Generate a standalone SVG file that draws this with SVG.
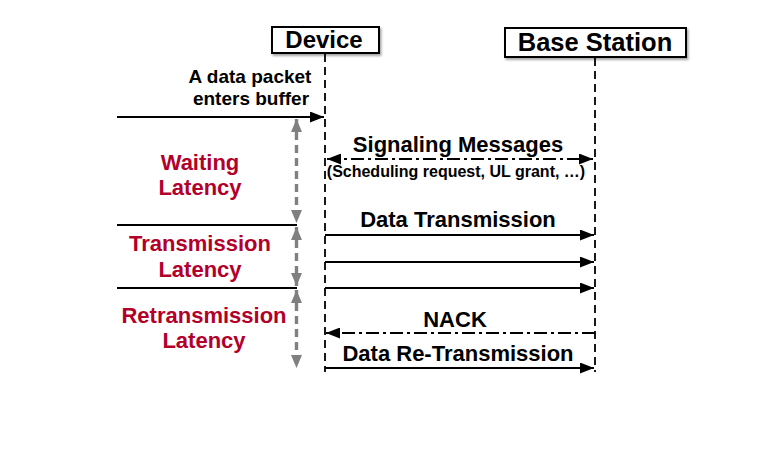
<svg xmlns="http://www.w3.org/2000/svg" width="761" height="452" viewBox="0 0 761 452">
<style>
text{font-family:"Liberation Sans",Arial,Helvetica,sans-serif;font-weight:bold;fill:#000}
.red{fill:#b3002a;font-size:22px}
.lbl{font-size:22px}
.box{fill:#fff;stroke:#000;stroke-width:2}
.life{stroke:#000;stroke-width:1.8;stroke-dasharray:8 5;fill:none}
.msg{stroke:#000;stroke-width:2;fill:none}
.dd{stroke-dasharray:13 4 3 4}
.span{stroke:#808080;stroke-width:3.4;stroke-dasharray:8 5;fill:none}
</style>
<defs>
<filter id="sh" x="-10%" y="-20%" width="130%" height="160%">
<feDropShadow dx="1.5" dy="2" stdDeviation="1.2" flood-color="#000" flood-opacity="0.35"/>
</filter>
<marker id="ah" viewBox="0 0 14 11" refX="14" refY="5.5" markerWidth="14" markerHeight="11" markerUnits="userSpaceOnUse" orient="auto-start-reverse">
<path d="M0,0 L14,5.5 L0,11 Z" fill="#000"/>
</marker>
<marker id="gh" viewBox="0 0 13 11" refX="13" refY="5.5" markerWidth="13" markerHeight="11" markerUnits="userSpaceOnUse" orient="auto-start-reverse">
<path d="M0,0 L13,5.5 L0,11 Z" fill="#808080"/>
</marker>
</defs>

<g id="device">
<rect class="box" x="272" y="27" width="107" height="26" filter="url(#sh)"/>
<text x="324" y="48" text-anchor="middle" style="font-size:24px">Device</text>
<line class="life" x1="325" y1="54" x2="325" y2="372"/>
</g>

<g id="base-station">
<rect class="box" x="505" y="28" width="181" height="29" filter="url(#sh)"/>
<text x="595" y="51" text-anchor="middle" style="font-size:25.5px">Base Station</text>
<line class="life" x1="595" y1="58" x2="595" y2="372"/>
</g>

<g id="packet-label">
<text x="250" y="83" text-anchor="middle" style="font-size:19px">A data packet</text>
<text x="251" y="105" text-anchor="middle" style="font-size:19px">enters buffer</text>
</g>

<g id="waiting-latency">
<text class="red" x="200" y="170" text-anchor="middle">Waiting</text>
<text class="red" x="200" y="195" text-anchor="middle">Latency</text>
</g>
<g id="transmission-latency">
<text class="red" x="200" y="251" text-anchor="middle">Transmission</text>
<text class="red" x="200" y="277" text-anchor="middle">Latency</text>
</g>
<g id="retransmission-latency">
<text class="red" x="204" y="323" text-anchor="middle">Retransmission</text>
<text class="red" x="204" y="348" text-anchor="middle">Latency</text>
</g>

<g id="connectors">
<line class="msg" x1="117" y1="117" x2="324" y2="117" marker-end="url(#ah)"/>
<line class="msg" x1="117" y1="225" x2="297" y2="225"/>
<line class="msg" x1="117" y1="288" x2="297" y2="288"/>

<line class="span" x1="296.5" y1="119" x2="296.5" y2="223" marker-start="url(#gh)" marker-end="url(#gh)"/>
<line class="span" x1="296.5" y1="227" x2="296.5" y2="286" marker-start="url(#gh)" marker-end="url(#gh)"/>
<line class="span" x1="296.5" y1="290" x2="296.5" y2="368" marker-start="url(#gh)" marker-end="url(#gh)"/>

<line class="msg dd" x1="327" y1="159" x2="593" y2="159" marker-start="url(#ah)" marker-end="url(#ah)"/>
<line class="msg" x1="325" y1="235" x2="594" y2="235" marker-end="url(#ah)"/>
<line class="msg" x1="325" y1="262" x2="594" y2="262" marker-end="url(#ah)"/>
<line class="msg" x1="325" y1="288" x2="594" y2="288" marker-end="url(#ah)"/>
<line class="msg dd" x1="595" y1="333" x2="326" y2="333" marker-end="url(#ah)"/>
<line class="msg" x1="325" y1="368" x2="594" y2="368" marker-end="url(#ah)"/>
</g>

<g id="message-labels">
<text class="lbl" x="458" y="152" text-anchor="middle">Signaling Messages</text>
<text x="456" y="177" text-anchor="middle" style="font-size:16px">(Scheduling request, UL grant, …)</text>
<text class="lbl" x="458" y="227" text-anchor="middle">Data Transmission</text>
<text class="lbl" x="455" y="327" text-anchor="middle">NACK</text>
<text class="lbl" x="458" y="361" text-anchor="middle">Data Re-Transmission</text>
</g>
</svg>
